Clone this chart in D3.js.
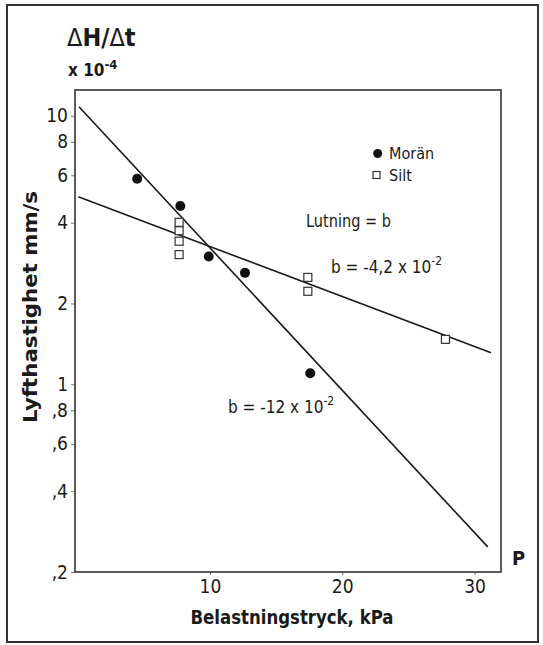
<!DOCTYPE html>
<html>
<head>
<meta charset="utf-8">
<script src="https://cdn.jsdelivr.net/npm/d3@7"></script>
<style>
  html, body { margin: 0; padding: 0; background: #fff; }
  svg text { font-family: "Liberation Sans Narrow", "DejaVu Sans Condensed", "Arial Narrow", "Liberation Sans", sans-serif; fill: #1a1a1a; }
</style>
</head>
<body>
<svg id="chart" width="543" height="645"></svg>
<script>
// ---- data ----
const xTicks = [10, 20, 30];
const xTickLabels = ["10", "20", "30"];
const yTicks = [10, 8, 6, 4, 2, 1, 0.8, 0.6, 0.4, 0.2];
const yTickLabels = ["10", "8", "6", "4", "2", "1", ",8", ",6", ",4", ",2"];

const moranX = [4.5, 7.76, 9.91, 12.65, 17.58];
const moranY = [5.83, 4.61, 2.99, 2.60, 1.10];

const siltX = [7.67, 7.67, 7.67, 7.67, 17.4, 17.4, 27.8];
const siltY = [4.01, 3.73, 3.41, 3.04, 2.50, 2.22, 1.47];

const moranLineX = [0.1, 31.0];
const moranLineY = [10.8, 0.248];
const siltLineX = [0.05, 31.25];
const siltLineY = [4.99, 1.31];

const legendLabels = ["Morän", "Silt"];

// ---- layout ----
const svg = d3.select("#chart");
const plot = { left: 75, top: 90, right: 501, bottom: 572 };

const x = d3.scaleLinear().domain([-0.2, 32]).range([plot.left, plot.right]);
const y = d3.scaleLog().domain([0.2, 12.47]).range([plot.bottom, plot.top]);

const ink = "#1a1a1a";
const narrow = '"Liberation Sans Narrow", "DejaVu Sans Condensed", sans-serif';

// outer frame
svg.append("rect").attr("x", 7).attr("y", 5).attr("width", 531).attr("height", 637)
  .attr("fill", "none").attr("stroke", "#333").attr("stroke-width", 2);

// axes
const yAxis = d3.axisLeft(y).tickValues(yTicks)
  .tickFormat((d, i) => yTickLabels[i]).tickSize(4).tickPadding(3);
const gy = svg.append("g").attr("transform", `translate(${plot.left},0)`).call(yAxis);
gy.select(".domain").remove();
gy.selectAll(".tick line").attr("stroke", "#777").attr("stroke-width", 1);
gy.selectAll(".tick text").attr("font-size", 19).attr("fill", ink).style("font-family", narrow);

const xAxis = d3.axisBottom(x).tickValues(xTicks)
  .tickFormat((d, i) => xTickLabels[i]).tickSize(3).tickPadding(5);
const gx = svg.append("g").attr("transform", `translate(0,${plot.bottom})`).call(xAxis);
gx.select(".domain").remove();
gx.selectAll(".tick line").attr("stroke", "#777").attr("stroke-width", 1);
gx.selectAll(".tick text").attr("font-size", 19).attr("fill", ink).style("font-family", narrow);

// plot frame
svg.append("rect").attr("x", plot.left).attr("y", plot.top)
  .attr("width", plot.right - plot.left).attr("height", plot.bottom - plot.top)
  .attr("fill", "none").attr("stroke", "#333").attr("stroke-width", 1.6);

// regression lines
const line = d3.line().x(d => x(d[0])).y(d => y(d[1]));
svg.append("path").datum(d3.zip(moranLineX, moranLineY)).attr("d", line)
  .attr("fill", "none").attr("stroke", ink).attr("stroke-width", 1.6);
svg.append("path").datum(d3.zip(siltLineX, siltLineY)).attr("d", line)
  .attr("fill", "none").attr("stroke", ink).attr("stroke-width", 1.6);

// points
svg.append("g").selectAll("circle").data(d3.zip(moranX, moranY)).join("circle")
  .attr("cx", d => x(d[0])).attr("cy", d => y(d[1])).attr("r", 5)
  .attr("fill", "#111");
svg.append("g").selectAll("rect").data(d3.zip(siltX, siltY)).join("rect")
  .attr("x", d => x(d[0]) - 4).attr("y", d => y(d[1]) - 4)
  .attr("width", 8).attr("height", 8)
  .attr("fill", "#fff").attr("stroke", "#333").attr("stroke-width", 1.2);

// legend
svg.append("circle").attr("cx", 377.7).attr("cy", 153.5).attr("r", 4.5).attr("fill", "#111");
svg.append("text").attr("x", 389).attr("y", 159).attr("font-size", 16).text(legendLabels[0]);
svg.append("rect").attr("x", 373).attr("y", 171.5).attr("width", 7).attr("height", 7)
  .attr("fill", "#fff").attr("stroke", "#333").attr("stroke-width", 1.2);
svg.append("text").attr("x", 389).attr("y", 181).attr("font-size", 16).text(legendLabels[1]);

// annotations
svg.append("text").attr("x", 306).attr("y", 227).attr("font-size", 18)
  .attr("textLength", 85).attr("lengthAdjust", "spacingAndGlyphs").text("Lutning = b");

const t1 = svg.append("text").attr("x", 331).attr("y", 273).attr("font-size", 17);
t1.append("tspan").text("b = -4,2 x 10");
t1.append("tspan").attr("dy", -8).attr("font-size", 12).text("-2");

const t2 = svg.append("text").attr("x", 228).attr("y", 413).attr("font-size", 17);
t2.append("tspan").text("b = -12 x 10");
t2.append("tspan").attr("dy", -8).attr("font-size", 12).text("-2");

// y-axis title block
const tt = svg.append("text").attr("x", 67).attr("y", 46).attr("font-size", 25).attr("font-weight", "bold");
tt.append("tspan").attr("font-weight", "normal").text("Δ");
tt.append("tspan").text("H/");
tt.append("tspan").attr("font-weight", "normal").text("Δ");
tt.append("tspan").text("t");

const te = svg.append("text").attr("x", 68).attr("y", 76).attr("font-size", 17).attr("font-weight", "bold");
te.append("tspan").text("x 10");
te.append("tspan").attr("dy", -7).attr("font-size", 13).text("-4");

svg.append("text")
  .attr("transform", "translate(37,307) rotate(-90)")
  .attr("text-anchor", "middle").attr("font-size", 19).attr("font-weight", "bold")
  .attr("textLength", 232).attr("lengthAdjust", "spacingAndGlyphs")
  .text("Lyfthastighet mm/s");

// x-axis title
svg.append("text").attr("x", 292).attr("y", 624).attr("text-anchor", "middle")
  .attr("font-size", 20).attr("font-weight", "bold")
  .attr("textLength", 203).attr("lengthAdjust", "spacingAndGlyphs")
  .text("Belastningstryck, kPa");

svg.append("text").attr("x", 512).attr("y", 565).attr("font-size", 20).attr("font-weight", "bold").text("P");
</script>
</body>
</html>
